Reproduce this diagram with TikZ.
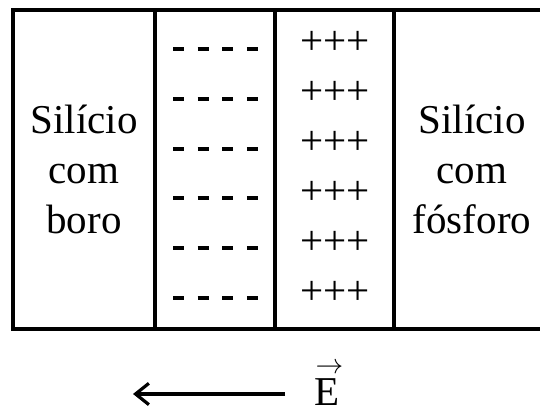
\documentclass[tikz,border=0pt]{standalone}
\usepackage{fontspec}
\setmainfont{Liberation Serif}
\usetikzlibrary{arrows.meta}
\begin{document}
\begin{tikzpicture}[x=0.75pt,y=-0.75pt,
  frame/.style={line width=2.4pt},
  chargetext/.style={font=\fontsize{30.75}{37.5}\selectfont, inner sep=0pt},
  regiontext/.style={font=\fontsize{30.75}{37.5}\selectfont, align=center, inner sep=0pt},
  negrow/.style={line width=3pt, dash pattern=on 8.25pt off 10.2pt},
  fieldarrow/.style={line width=2.4pt, -{Straight Barb[length=10pt,width=16pt]}}
]
\useasboundingbox (0,0) rectangle (540,409);
% outer frame (right side runs off the picture)
\draw[frame] (540,10) -- (13,10) -- (13,329) -- (540,329);
% dividers
\draw[frame] (155,10) -- (155,329);
\draw[frame] (275,10) -- (275,329);
\draw[frame] (394,10) -- (394,329);
% region labels
\node[regiontext] (pside) at (84,169) {Silício\\com\\boro};
\node[regiontext] (nside) at (472,169) {Silício\\com\\fósforo};
% negative charges
\foreach \k in {0,...,5}
  \draw[negrow] (173,{49+49.8*\k}) -- (258,{49+49.8*\k});
% positive charges
\foreach \k in {0,...,5}
  \node[chargetext, anchor=base] (plus\k) at (335,{55+50*\k}) {+++};
% electric field
\coordinate (arrowstart) at (285,394);
\coordinate (arrowend) at (133,394);
\draw[fieldarrow] (arrowstart) -- (arrowend);
\node[chargetext, anchor=base] (field) at (327,406)
  {\makebox[0pt][l]{\hspace{0.8pt}\raisebox{24.5pt}{$\scriptstyle\rightarrow$}}E};
\end{tikzpicture}
\end{document}
